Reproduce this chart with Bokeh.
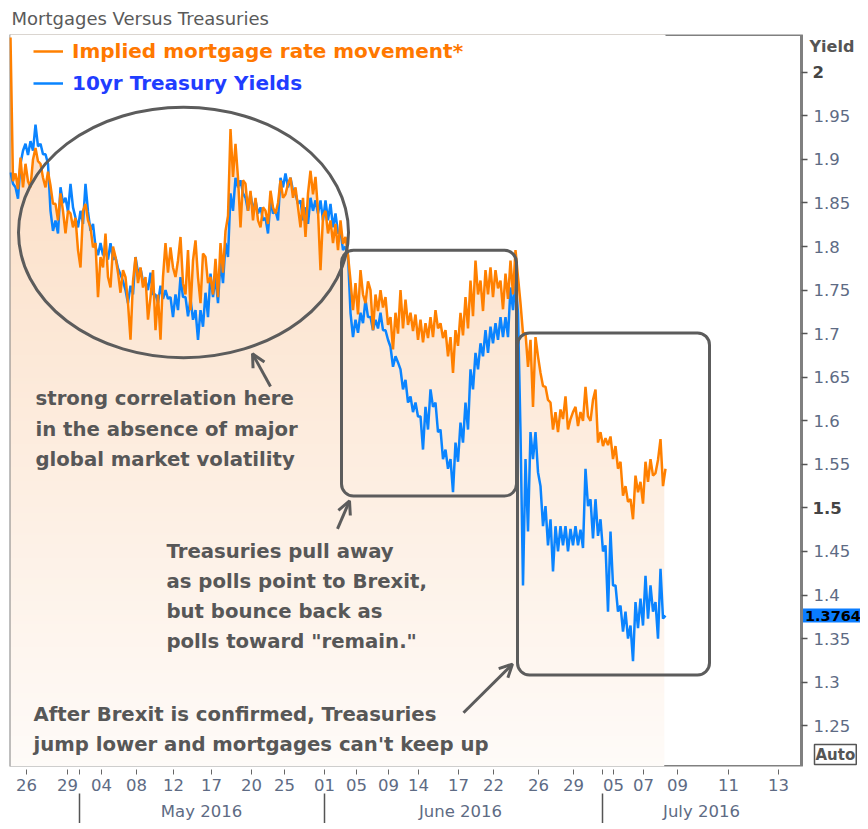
import numpy as np
from bokeh.plotting import figure
from bokeh.models import (FixedTicker, NumeralTickFormatter, LinearAxis, Range1d, Label,
                          Arrow, OpenHead, BoxAnnotation, Legend, LegendItem)
from bokeh.embed import file_html
from bokeh.resources import INLINE

# ---------------- data ----------------
mortgage = [2.040, 1.875, 1.884, 1.866, 1.902, 1.868, 1.895, 1.875, 1.868, 1.900,
            1.913, 1.898, 1.895, 1.879, 1.868, 1.886, 1.870, 1.849, 1.849, 1.830,
            1.861, 1.841, 1.815, 1.841, 1.838, 1.822, 1.833, 1.796, 1.776, 1.841,
            1.849, 1.830, 1.822, 1.799, 1.804, 1.742, 1.788, 1.776, 1.815, 1.765,
            1.753, 1.800, 1.788, 1.770, 1.747, 1.773, 1.765, 1.735, 1.693, 1.760,
            1.788, 1.758, 1.776, 1.753, 1.765, 1.716, 1.742, 1.773, 1.704, 1.745,
            1.693, 1.765, 1.804, 1.770, 1.799, 1.776, 1.765, 1.784, 1.811, 1.758,
            1.745, 1.796, 1.727, 1.784, 1.807, 1.765, 1.735, 1.792, 1.788, 1.758,
            1.765, 1.745, 1.786, 1.742, 1.804, 1.770, 1.818, 1.835, 1.935, 1.880,
            1.918, 1.879, 1.822, 1.876, 1.872, 1.841, 1.864, 1.830, 1.856, 1.830,
            1.822, 1.845, 1.841, 1.826, 1.864, 1.845, 1.838, 1.850, 1.876, 1.856,
            1.860, 1.872, 1.879, 1.856, 1.868, 1.845, 1.822, 1.856, 1.811, 1.861,
            1.887, 1.860, 1.880, 1.841, 1.773, 1.835, 1.841, 1.815, 1.830, 1.804,
            1.826, 1.796, 1.830, 1.803, 1.811, 1.790, 1.761, 1.727, 1.758, 1.722,
            1.773, 1.745, 1.735, 1.760, 1.750, 1.704, 1.745, 1.726, 1.750, 1.730,
            1.742, 1.710, 1.719, 1.682, 1.724, 1.700, 1.750, 1.706, 1.739, 1.710,
            1.724, 1.703, 1.722, 1.693, 1.716, 1.690, 1.712, 1.695, 1.719, 1.696,
            1.727, 1.706, 1.712, 1.695, 1.704, 1.674, 1.696, 1.655, 1.704, 1.686,
            1.724, 1.698, 1.742, 1.706, 1.761, 1.720, 1.784, 1.745, 1.761, 1.726,
            1.773, 1.745, 1.776, 1.742, 1.773, 1.752, 1.761, 1.728, 1.769, 1.740,
            1.784, 1.745, 1.796, 1.765, 1.735, 1.700, 1.701, 1.662, 1.693, 1.616,
            1.696, 1.674, 1.655, 1.640, 1.639, 1.624, 1.621, 1.590, 1.610, 1.587,
            1.613, 1.602, 1.628, 1.590, 1.602, 1.610, 1.616, 1.594, 1.610, 1.600,
            1.639, 1.605, 1.600, 1.624, 1.636, 1.575, 1.587, 1.571, 1.580, 1.572,
            1.582, 1.556, 1.571, 1.545, 1.553, 1.514, 1.525, 1.507, 1.510, 1.487,
            1.537, 1.518, 1.530, 1.505, 1.553, 1.530, 1.556, 1.537, 1.540, 1.555,
            1.579, 1.525, 1.545]

treasury = [1.885, 1.872, 1.868, 1.855, 1.895, 1.910, 1.918, 1.905, 1.921, 1.910,
            1.940, 1.915, 1.918, 1.906, 1.906, 1.895, 1.841, 1.818, 1.830, 1.815,
            1.868, 1.850, 1.856, 1.840, 1.872, 1.845, 1.833, 1.822, 1.841, 1.826,
            1.872, 1.840, 1.818, 1.826, 1.800, 1.790, 1.804, 1.790, 1.795, 1.785,
            1.804, 1.785, 1.788, 1.775, 1.768, 1.760, 1.750, 1.735, 1.755, 1.745,
            1.788, 1.770, 1.775, 1.760, 1.760, 1.750, 1.770, 1.745, 1.745, 1.735,
            1.755, 1.740, 1.750, 1.740, 1.742, 1.719, 1.745, 1.727, 1.765, 1.742,
            1.742, 1.720, 1.740, 1.716, 1.727, 1.693, 1.727, 1.708, 1.747, 1.719,
            1.769, 1.742, 1.765, 1.735, 1.784, 1.758, 1.804, 1.788, 1.861, 1.841,
            1.879, 1.868, 1.876, 1.861, 1.856, 1.841, 1.861, 1.841, 1.853, 1.838,
            1.845, 1.830, 1.833, 1.815, 1.853, 1.838, 1.841, 1.830, 1.879, 1.868,
            1.884, 1.868, 1.879, 1.864, 1.861, 1.849, 1.853, 1.830, 1.845, 1.826,
            1.856, 1.841, 1.853, 1.838, 1.853, 1.830, 1.853, 1.830, 1.849, 1.822,
            1.838, 1.815, 1.818, 1.796, 1.800, 1.790, 1.724, 1.696, 1.716, 1.701,
            1.724, 1.712, 1.739, 1.719, 1.719, 1.704, 1.716, 1.706, 1.724, 1.704,
            1.704, 1.693, 1.685, 1.662, 1.674, 1.667, 1.659, 1.636, 1.647, 1.621,
            1.628, 1.610, 1.621, 1.605, 1.605, 1.567, 1.616, 1.590, 1.636, 1.616,
            1.621, 1.587, 1.590, 1.556, 1.567, 1.545, 1.556, 1.518, 1.575, 1.553,
            1.598, 1.575, 1.621, 1.590, 1.659, 1.636, 1.678, 1.659, 1.689, 1.674,
            1.704, 1.678, 1.708, 1.689, 1.712, 1.693, 1.719, 1.696, 1.719, 1.696,
            1.753, 1.727, 1.761, 1.724, 1.587, 1.411, 1.556, 1.473, 1.587, 1.556,
            1.587, 1.541, 1.525, 1.479, 1.502, 1.457, 1.487, 1.427, 1.479, 1.450,
            1.479, 1.457, 1.479, 1.450, 1.476, 1.457, 1.479, 1.457, 1.475, 1.454,
            1.545, 1.502, 1.510, 1.465, 1.510, 1.468, 1.487, 1.450, 1.457, 1.381,
            1.473, 1.411, 1.411, 1.381, 1.388, 1.358, 1.381, 1.350, 1.365, 1.324,
            1.392, 1.362, 1.396, 1.365, 1.422, 1.373, 1.411, 1.381, 1.392, 1.350,
            1.430, 1.373, 1.3764]

last_value = 1.3764

day_tick_idx = [6.4, 22.8, 27.6, 36.4, 50.4, 65.2, 80.4, 96.4, 109.6, 125.6, 138.4, 151.2,
                163.2, 179.2, 193.2, 211.2, 225.2, 236.8, 241.2, 253.2, 266.8, 287.2, 307.2]
day_tick_labels = ["26", "29", "", "04", "08", "12", "17", "20", "25", "01", "05", "09",
                   "14", "17", "22", "26", "29", "", "05", "07", "09", "11", "13"]
month_bounds = [27.6, 125.6, 236.8]
month_centers = [76.4, 180.0, 276.4]
month_labels = ["May 2016", "June 2016", "July 2016"]

y_ticks = [1.25, 1.3, 1.35, 1.4, 1.45, 1.5, 1.55, 1.6, 1.65, 1.7, 1.75, 1.8, 1.85, 1.9, 1.95, 2.0]
bold_ticks = [2.0, 1.5]

series_names = ["Implied mortgage rate movement*", "10yr Treasury Yields"]

# ---------------- calibration from reference pixels ----------------
def rx(px):
    return (px - 10) / 2.5

def ry(py):
    return 2 - (py - 71) / 876.0

X0, X1 = -0.4, 340.0          # frame runs under the value-axis labels
XR = rx(801)                  # right edge of the chart box (value axis line)
Y0, Y1 = 1.2032, 2.0434

FONT = "DejaVu Sans"
GREY = "#575757"
TICK_COL = "#5E6B84"
ORANGE = "#FF8000"
BLUE = "#0A84FF"
BORDER = "#808080"

idx = np.arange(len(mortgage))

p = figure(frame_width=851, frame_height=732,
           x_range=Range1d(X0, X1), y_range=Range1d(Y0, Y1),
           x_axis_location=None, y_axis_location="right",
           output_backend="svg", toolbar_location=None,
           min_border_left=9, min_border_right=0, min_border_top=33, min_border_bottom=56,
           background_fill_color="white", border_fill_color="white")
p.xgrid.visible = False
p.ygrid.visible = False
p.outline_line_color = None

p.title.text = "Mortgages Versus Treasuries"
p.title.text_font = FONT
p.title.text_font_size = "18px"
p.title.text_font_style = "normal"
p.title.text_color = "#5a5a5a"
p.title.align = "left"
p.title.offset = 2
p.title.standoff = 11

# ---------------- gradient fill under the mortgage line ----------------
ny = 256
yy = np.linspace(Y0, Y1, ny)
top_y, a_max = 1.91, 0.88
a = np.clip(a_max * (top_y - yy) / (top_y - Y0), 0, a_max)
base = np.array([252, 224, 200], dtype=float)
cols = base[None, :] * (1 - a[:, None]) + 255 * a[:, None]
img = np.empty((ny, 2), dtype=np.uint32)
view = img.view(dtype=np.uint8).reshape((ny, 2, 4))
for k in range(3):
    view[:, :, k] = cols[:, k][:, None].astype(np.uint8)
view[:, :, 3] = 255
p.image_rgba(image=[img], x=0, y=Y0, dw=len(mortgage) - 1.5, dh=Y1 - Y0)
p.varea(x=idx, y1=mortgage, y2=[Y1] * len(mortgage), fill_color="white")

# chart box (left/top/bottom border and value-axis line)
p.add_layout(BoxAnnotation(left=X0, right=XR, top=Y1, bottom=Y0, fill_alpha=0,
                           fill_color=None, line_color=BORDER, line_alpha=1.0, line_width=3,
                           level="underlay"))

# ---------------- series ----------------
r_t = p.line(idx, treasury, line_color=BLUE, line_width=2.5)
r_m = p.line(idx, mortgage, line_color=ORANGE, line_width=2.5)

# ---------------- annotations ----------------
ANN = "#5c5c5c"
p.ellipse(x=[rx(183)], y=[ry(232)], width=[330 / 2.5], height=[252 / 876.0],
          fill_color=None, line_color=ANN, line_width=3)
for (l, r, t, b) in [(341, 516, 250, 497), (517, 709, 333, 677)]:
    p.add_layout(BoxAnnotation(left=rx(l), right=rx(r), top=ry(t), bottom=ry(b),
                               fill_color=None, fill_alpha=0, line_color=ANN,
                               line_alpha=1.0, line_width=3, border_radius=12))
for (xs, ys, xe, ye) in [(270, 387, 252, 354), (337, 530, 349, 502), (463, 715, 512, 666)]:
    p.add_layout(Arrow(x_start=rx(xs), y_start=ry(ys), x_end=rx(xe), y_end=ry(ye),
                       line_color=ANN, line_width=3,
                       end=OpenHead(size=13, line_color=ANN, line_width=3)))

texts = [
    (35, 399, "strong correlation here"),
    (35, 430, "in the absence of major"),
    (35, 460, "global market volatility"),
    (166, 553, "Treasuries pull away"),
    (166, 583, "as polls point to Brexit,"),
    (166, 613, "but bounce back as"),
    (166, 643, "polls toward \"remain.\""),
    (33, 717, "After Brexit is confirmed, Treasuries"),
    (33, 747, "jump lower and mortgages can't keep up"),
]
for (tx, ty, t) in texts:
    p.add_layout(Label(x=rx(tx), y=ry(ty), text=t, text_font=FONT, text_font_style="bold",
                       text_font_size="19.7px", text_color=GREY, text_baseline="alphabetic"))

for r, name, col, vy in [(r_m, series_names[0], "#FF7800", 703),
                         (r_t, series_names[1], "#1F3DFF", 671)]:
    lg = Legend(items=[LegendItem(label=name, renderers=[r])], location=(24, vy),
                padding=0, spacing=0, glyph_width=30, glyph_height=20, label_standoff=9,
                label_text_font=FONT, label_text_font_style="bold",
                label_text_font_size="20px", label_text_color=col,
                background_fill_alpha=0, border_line_color=None)
    p.add_layout(lg)

# ---------------- value axis (ticks and labels pulled back beside the chart box) ----------------
ya = p.yaxis[0]
ya.ticker = FixedTicker(ticks=y_ticks)
ya.formatter = NumeralTickFormatter(format="0.[00]")
ya.major_label_overrides = {v: "" for v in bold_ticks}
ya.major_tick_in = 59
ya.major_tick_out = -53
ya.minor_tick_line_color = None
ya.major_tick_line_color = "#555555"
ya.major_tick_line_width = 1.5
ya.axis_line_color = None
ya.major_label_standoff = -47
ya.major_label_text_font = FONT
ya.major_label_text_font_size = "16.5px"
ya.major_label_text_color = TICK_COL

for v in bold_ticks:
    p.add_layout(Label(x=rx(812), y=v, text=f"{v:g}", text_font=FONT, text_font_style="bold",
                       text_font_size="16.5px", text_color="#444444", text_baseline="middle"))
p.add_layout(Label(x=rx(809), y=ry(45), text="Yield", text_font=FONT, text_font_style="bold",
                   text_font_size="16px", text_color="#555555", text_baseline="middle"))
p.add_layout(Label(x=rx(814), y=ry(757), text="Auto", text_font=FONT,
                   text_font_style="bold", text_font_size="15px", text_color="#555555",
                   text_baseline="middle", background_fill_color="white",
                   border_line_color="#555555", border_line_width=1.5, padding=1))
p.add_layout(Label(x=rx(802.5), y=last_value, text=f"{last_value:.4f}", text_font=FONT,
                   text_font_style="bold", text_font_size="14.5px", text_color="black",
                   text_baseline="middle", background_fill_color="#0A7CFF", padding=2))

# ---------------- bottom time axes ----------------
day_axis = LinearAxis(ticker=FixedTicker(ticks=day_tick_idx, minor_ticks=[]),
                      major_label_overrides=dict(zip(day_tick_idx, day_tick_labels)),
                      axis_line_color=None, major_tick_in=-3, major_tick_out=8,
                      major_tick_line_color="#666666", minor_tick_line_color=None,
                      major_label_standoff=4, major_label_text_font=FONT,
                      major_label_text_font_size="16.5px", major_label_text_color=TICK_COL)
p.add_layout(day_axis, "below")
month_axis = LinearAxis(ticker=FixedTicker(ticks=month_centers, minor_ticks=month_bounds),
                        major_label_overrides=dict(zip(month_centers, month_labels)),
                        axis_line_color=None, major_tick_line_color=None,
                        major_tick_in=0, major_tick_out=0,
                        minor_tick_in=-30, minor_tick_out=0, minor_tick_line_color="#555555",
                        minor_tick_line_width=1.5,
                        major_label_standoff=8, major_label_text_font=FONT,
                        major_label_text_font_size="16.5px", major_label_text_color=TICK_COL)
p.add_layout(month_axis, "below")

open("out.html", "w").write(file_html(p, INLINE))
